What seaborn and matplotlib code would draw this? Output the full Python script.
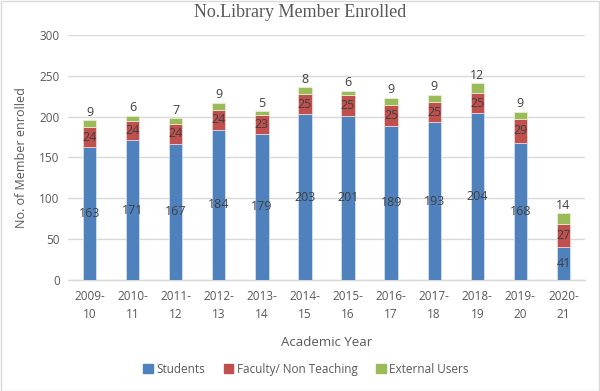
import matplotlib
matplotlib.use("Agg")
import matplotlib.pyplot as plt
import seaborn as sns
import pandas as pd
import numpy as np
from matplotlib.patches import Rectangle

years = ["2009-\n10", "2010-\n11", "2011-\n12", "2012-\n13", "2013-\n14", "2014-\n15",
         "2015-\n16", "2016-\n17", "2017-\n18", "2018-\n19", "2019-\n20", "2020-\n21"]
students = [163, 171, 167, 184, 179, 203, 201, 189, 193, 204, 168, 41]
faculty = [24, 24, 24, 24, 23, 25, 25, 25, 25, 25, 29, 27]
external = [9, 6, 7, 9, 5, 8, 6, 9, 9, 12, 9, 14]
series_names = ["Students", "Faculty/ Non Teaching", "External Users"]
colors = ["#4F81BD", "#C0504D", "#9BBB59"]

sns.set_theme(style="white")
plt.rcParams["font.family"] = ["Open Sans", "DejaVu Sans"]
txt = "#595959"

fig = plt.figure(figsize=(6, 3.91), dpi=100)
ax = fig.add_axes([0.1133, 0.2839, 0.8617, 0.6266])

df = pd.DataFrame({"year": years, "students": students, "faculty": faculty, "external": external})
df["b2"] = df["students"] + df["faculty"]

w = 0.31
sns.barplot(data=df, x="year", y="students", color=colors[0], width=w, ax=ax,
            saturation=1, edgecolor="#DCE6F2", linewidth=0.5, zorder=3)
sns.barplot(data=df, x="year", y="faculty", bottom=df["students"], color=colors[1], width=w,
            ax=ax, saturation=1, edgecolor="#F2DCDB", linewidth=0.5, zorder=3)
sns.barplot(data=df, x="year", y="external", bottom=df["b2"], color=colors[2], width=w,
            ax=ax, saturation=1, edgecolor="#EBF1DE", linewidth=0.5, zorder=3)

conts = ax.containers
lab_col = "#404040"
ax.bar_label(conts[0], labels=[str(v) for v in students], label_type="center",
             fontsize=9, color=lab_col)
ax.bar_label(conts[1], labels=[str(v) for v in faculty], label_type="center",
             fontsize=9, color=lab_col)
ax.bar_label(conts[2], labels=[str(v) for v in external], label_type="edge",
             padding=1, fontsize=9, color=lab_col)

ax.set_ylim(0, 300)
ax.set_xlim(-0.5, len(years) - 0.5)
ax.set_yticks(range(0, 301, 50))
ax.yaxis.grid(True, color="#D9D9D9", linewidth=1)
ax.set_axisbelow(True)
for s in ["top", "right", "left"]:
    ax.spines[s].set_visible(False)
ax.spines["bottom"].set_color("#D9D9D9")
ax.spines["bottom"].set_linewidth(1)
ax.tick_params(axis="both", length=0, colors=txt, labelsize=8.5)
ax.tick_params(axis="x", pad=7)
ax.tick_params(axis="y", pad=6)
for lab in ax.get_xticklabels():
    lab.set_linespacing(1.5)

ax.set_xlabel("Academic Year", fontsize=9.5, color=txt, labelpad=11)
ax.set_ylabel("No. of Member enrolled", fontsize=9, color=txt, labelpad=8)
fig.text(0.5, 0.968, "No.Library Member Enrolled", ha="center", va="center",
         fontsize=13, color=txt, family="Liberation Serif")

handles = [Rectangle((0, 0), 1, 1, color=c) for c in colors]
fig.legend(handles, series_names, loc="center", bbox_to_anchor=(0.51, 0.056), ncol=3,
           frameon=False, fontsize=8.5, labelcolor=txt, handlelength=0.8, handleheight=0.9,
           handletextpad=0.3, columnspacing=1.6)

fig.patches.append(Rectangle((0.001, 0.001), 0.998, 0.997, transform=fig.transFigure,
                             fill=False, edgecolor="#D9D9D9", linewidth=1))
fig.savefig("out.png", dpi=100)
